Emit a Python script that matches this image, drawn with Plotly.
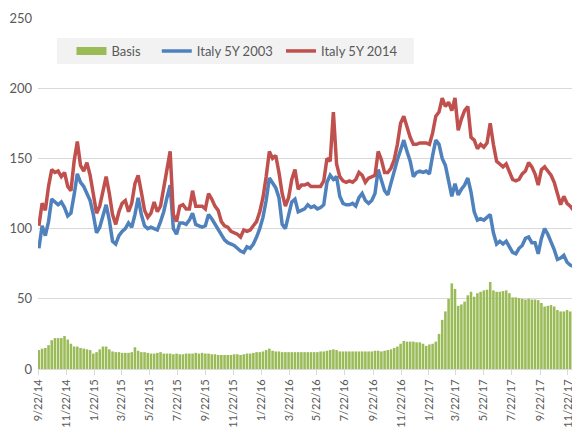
import pandas as pd
import plotly.graph_objects as go

# weekly observations, starting 9/22/14
weeks = pd.date_range('2014-09-22', periods=169, freq='7D')

basis = [13.5, 14.5, 15, 17, 20.5, 22, 22, 22, 23.5, 21,
         18, 16, 16, 15, 14.5, 14, 13.5, 11, 12, 14,
         16, 16, 14, 12.5, 12, 12, 11.5, 11.5, 11.5, 12,
         15.5, 13, 12, 12, 11.5, 11, 11, 11.5, 12, 11,
         11, 11, 10.5, 11, 10.5, 10.5, 11, 11, 11, 11.5,
         11, 11.5, 11, 11, 10.5, 10.5, 10, 10, 10, 10,
         10, 10.5, 10.5, 10, 10.5, 11, 11, 11.5, 12, 12,
         12.5, 13.5, 14.5, 13, 12.5, 12.5, 12, 12, 12, 12,
         12, 12, 12, 12, 12, 12, 12, 12, 12.5, 12.5,
         13, 13.5, 14, 13.5, 12.5, 12.5, 12.5, 12.5, 12.5, 12.5,
         12.5, 12.5, 12.5, 12.5, 12.5, 13, 13, 12.5, 13, 13.5,
         14, 15, 16, 18, 20, 19.5, 19.5, 19.5, 19, 19,
         18, 16.5, 17.5, 18, 19.5, 25, 35, 41, 50, 61,
         57, 45, 46, 48, 52.5, 55, 51.5, 54, 55, 56,
         56.5, 62, 56, 55, 55, 55.5, 56, 54, 51, 51,
         50.5, 50, 49.5, 50, 49.5, 49.5, 49, 47, 44.5, 45,
         45.5, 44.5, 42, 41, 41, 42, 41, 40, 40]

italy_2003 = [86, 102, 95, 105, 121, 119, 117, 119, 115, 109,
              111, 124, 139, 133, 130, 125, 120, 110, 97, 101,
              110, 117, 106, 91, 89, 95, 98, 100, 104, 101,
              110, 122, 110, 102, 100, 101, 100, 99, 105, 112,
              122, 131, 100, 96, 104, 104, 103, 106, 111, 103,
              102, 101, 102, 110, 107, 103, 100, 96, 92, 90,
              89, 88, 86, 84, 83, 87, 86, 89, 94, 100,
              108, 120, 136, 132, 129, 122, 103, 100, 111, 119,
              121, 112, 113, 114, 117, 115, 116, 114, 115, 117,
              133, 138, 135, 137, 123, 118, 117, 117, 118, 116,
              122, 125, 120, 118, 120, 125, 142, 135, 127, 124,
              133, 141, 149, 156, 163, 155, 148, 137, 140, 141,
              140, 141, 139, 152, 163, 160, 150, 145, 133, 123,
              132, 124, 128, 131, 136, 126, 112, 106, 107, 106,
              108, 110, 97, 89, 91, 89, 91, 87, 83, 82,
              86, 88, 93, 94, 90, 90, 82, 93, 100, 96,
              91, 85, 78, 79, 81, 76, 74, 73, 74]

italy_2014 = [102, 118, 113, 130, 142, 140, 141, 137, 140, 130,
              127, 148, 162, 145, 141, 147, 138, 125, 111, 116,
              128, 137, 125, 110, 103, 112, 118, 120, 112, 118,
              132, 138, 126, 113, 108, 111, 119, 112, 116, 128,
              140, 155, 110, 105, 116, 117, 114, 114, 127, 116,
              116, 116, 114, 125, 121, 116, 113, 105, 102, 101,
              98, 97, 96, 94, 99, 98, 99, 102, 105, 112,
              122, 137, 155, 150, 152, 140, 125, 116, 122, 135,
              142, 128, 131, 131, 132, 130, 130, 130, 130, 134,
              150, 148, 183, 146, 137, 134, 133, 134, 133, 135,
              140, 138, 133, 136, 137, 138, 155, 149, 140, 140,
              143, 149, 160, 175, 180, 172, 165, 160, 160, 161,
              161, 161, 160, 168, 180, 183, 193, 187, 190, 184,
              193, 170, 178, 184, 187, 165, 163, 157, 160, 158,
              161, 175, 160, 148, 146, 144, 146, 140, 135, 134,
              135, 139, 141, 147, 144, 139, 131, 142, 144, 141,
              138, 133, 126, 117, 123, 118, 116, 113, 114]

tick_labels = ['9/22/14', '11/22/14', '1/22/15', '3/22/15', '5/22/15', '7/22/15',
               '9/22/15', '11/22/15', '1/22/16', '3/22/16', '5/22/16', '7/22/16',
               '9/22/16', '11/22/16', '1/22/17', '3/22/17', '5/22/17', '7/22/17',
               '9/22/17', '11/22/17']
tick_dates = pd.to_datetime(tick_labels, format='%m/%d/%y')

grey_text = '#595959'
grid = '#d9d9d9'
green, blue, red = '#9BBB59', '#4F81BD', '#C0504D'

fig = go.Figure()
fig.add_trace(go.Bar(x=weeks, y=basis, name='Basis', showlegend=False,
                     legendgroup='basis', marker=dict(color=green, line=dict(width=0))))
# legend entry for the bars, drawn as a wide flat swatch like the original
fig.add_trace(go.Scatter(x=[None], y=[None], name='Basis', mode='lines', legendgroup='basis',
                         line=dict(color=green, width=8), legend='legend'))
fig.add_trace(go.Scatter(x=weeks, y=italy_2003, name='Italy 5Y 2003', mode='lines',
                         line=dict(color=blue, width=3.5), legend='legend2'))
fig.add_trace(go.Scatter(x=weeks, y=italy_2014, name='Italy 5Y 2014', mode='lines',
                         line=dict(color=red, width=3.5), legend='legend3'))

leg = dict(orientation='h', y=0.906, xanchor='left', yanchor='middle',
           bgcolor='rgba(0,0,0,0)', font=dict(size=13, color=grey_text))

fig.update_layout(
    width=572, height=427,
    margin=dict(l=30, r=2, t=10, b=66, autoexpand=False),
    paper_bgcolor='white', plot_bgcolor='white',
    font=dict(family='Lato, Liberation Sans, sans-serif', color=grey_text, size=12),
    bargap=0.2,
    showlegend=True,
    legend=dict(leg, x=0.062),
    legend2=dict(leg, x=0.220),
    legend3=dict(leg, x=0.450),
    shapes=[dict(type='rect', xref='paper', yref='paper', x0=0.035, x1=0.696,
                 y0=0.869, y1=0.943, fillcolor='#f2f2f2', line=dict(width=0), layer='below')],
)
fig.update_xaxes(type='date', range=['2014-09-20', '2017-12-14'], automargin=False,
                 tickvals=tick_dates, ticktext=tick_labels, tickangle=-90,
                 tickfont=dict(size=11, color=grey_text),
                 showgrid=False, showline=True, linecolor=grid, linewidth=1,
                 ticks='outside', ticklen=5, tickcolor=grid)
fig.update_yaxes(range=[0, 250], dtick=50, showgrid=True, gridcolor=grid, gridwidth=1,
                 zeroline=False, showline=False, ticks='', automargin=False,
                 tickfont=dict(size=13, color=grey_text), ticklabelstandoff=5)

fig.write_html("out.html")
